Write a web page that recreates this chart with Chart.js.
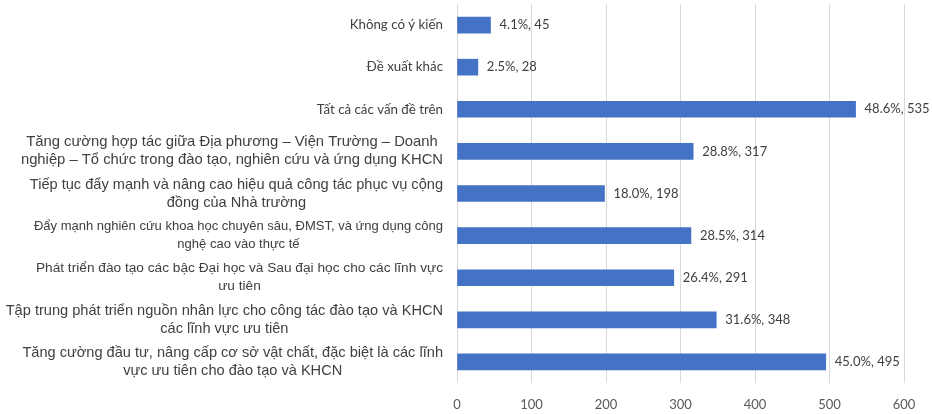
<!DOCTYPE html>
<html>
<head>
<meta charset="utf-8">
<script src="https://cdn.jsdelivr.net/npm/chart.js@4"></script>
<style>
  html, body { margin: 0; padding: 0; background: #fff; }
  #wrap { width: 932px; height: 414px; }
</style>
</head>
<body>
<div id="wrap"><canvas id="chart"></canvas></div>
<script>
const labels = [
    "Không có ý kiến",
    "Đề xuất khác",
    "Tất cả các vấn đề trên",
    ["Tăng cường hợp tác giữa Địa phương – Viện Trường – Doanh", "nghiệp – Tổ chức trong đào tạo, nghiên cứu và ứng dụng KHCN"],
    ["Tiếp tục đẩy mạnh và nâng cao hiệu quả công tác phục vụ cộng", "đồng của Nhà trường"],
    ["Đẩy mạnh nghiên cứu khoa học chuyên sâu, ĐMST, và ứng dụng công", "nghệ cao vào thực tế"],
    ["Phát triển đào tạo các bậc Đại học và Sau đại học cho các lĩnh vực", "ưu tiên"],
    ["Tập trung phát triển nguồn nhân lực cho công tác đào tạo và KHCN", "các lĩnh vực ưu tiên"],
    ["Tăng cường đầu tư, nâng cấp cơ sở vật chất, đặc biệt là các lĩnh", "vực ưu tiên cho đào tạo và KHCN"]
];
const counts = [45, 28, 535, 317, 198, 314, 291, 348, 495];
const percents = ["4.1%", "2.5%", "48.6%", "28.8%", "18.0%", "28.5%", "26.4%", "31.6%", "45.0%"];
const xTicks = [0, 100, 200, 300, 400, 500, 600];

// cỡ chữ từng nhãn (nhãn gốc không đồng đều)
const labelSizes = [13.3, 13.3, 13.3, 14.8, 14.6, 13, 13.7, 14.6, 14.6];

// nhãn trục y: canh phải theo khối, từng dòng canh giữa
const yLabels = {
    id: 'yLabels',
    afterDraw(chart) {
        const ctx = chart.ctx;
        const y = chart.scales.y;
        const right = y.right - 14;
        ctx.save();
        ctx.fillStyle = '#404040';
        ctx.textBaseline = 'middle';
        ctx.textAlign = 'center';
        labels.forEach((lab, i) => {
            const lines = Array.isArray(lab) ? lab : [lab];
            const family = Array.isArray(lab) ? '"Liberation Sans", Arial' : 'Lato';
            ctx.font = labelSizes[i] + 'px ' + family;
            const w = Math.max(...lines.map(l => ctx.measureText(l).width));
            const cy = y.getPixelForValue(i);
            const lh = 18;
            lines.forEach((l, k) => {
                ctx.fillText(l, right - w / 2, cy + (k - (lines.length - 1) / 2) * lh);
            });
        });
        ctx.restore();
    }
};

// nhãn dữ liệu "x%, n"
const barLabels = {
    id: 'barLabels',
    afterDatasetsDraw(chart) {
        const ctx = chart.ctx;
        const meta = chart.getDatasetMeta(0);
        ctx.save();
        ctx.font = '13px Lato';
        ctx.fillStyle = '#404040';
        ctx.textBaseline = 'middle';
        ctx.textAlign = 'left';
        meta.data.forEach((bar, i) => {
            ctx.fillText(percents[i] + ', ' + counts[i], bar.x + 9, bar.y);
        });
        ctx.restore();
    }
};

new Chart(document.getElementById("chart"), {
    type: 'bar',
    data: {
        labels: labels,
        datasets: [{
            data: counts,
            backgroundColor: "#4472C4",
            borderWidth: 0,
            barThickness: 16
        }]
    },
    options: {
        indexAxis: 'y',
        responsive: true,
        maintainAspectRatio: false,
        animation: false,
        layout: { padding: { top: 4, right: 28, left: 0, bottom: 0 } },
        plugins: {
            legend: { display: false },
            tooltip: { enabled: false }
        },
        scales: {
            x: {
                min: 0,
                max: 600,
                afterBuildTicks(scale) { scale.ticks = xTicks.map(v => ({ value: v })); },
                afterFit(scale) { scale.height = 31; },
                grid: { color: '#d9d9d9', drawTicks: false },
                border: { display: false },
                ticks: { color: '#595959', font: { family: 'Lato', size: 13 }, padding: 14 }
            },
            y: {
                afterFit(scale) { scale.width = 457; },
                grid: { display: false },
                border: { display: false },
                ticks: { display: false }
            }
        }
    },
    plugins: [yLabels, barLabels]
});
</script>
</body>
</html>
